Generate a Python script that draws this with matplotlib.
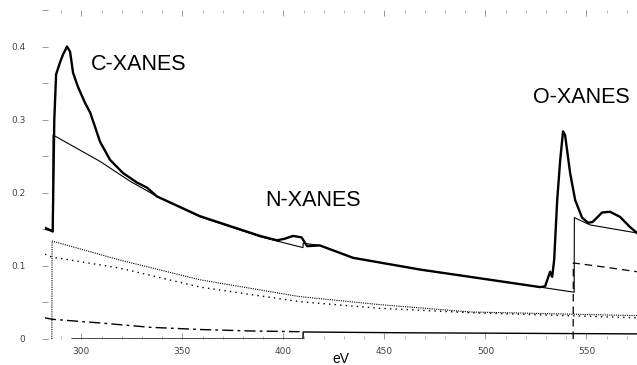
import numpy as np
from matplotlib import pyplot as plt
from matplotlib.ticker import MultipleLocator

# measured absorption (thick curve)
energy_meas = [282, 284.5, 285.8, 286.6, 287.5, 289.4, 290.9, 292.9, 294.4, 295.9,
               298.3, 301.8, 304.3, 306.8, 309.2, 314.2, 320.6, 327.5, 332.5, 337.4,
               358.7, 388.4, 396.8, 400.5, 404.8, 409.0, 411.7, 418, 434.5, 467.6,
               492.4, 527, 529.5, 532, 533, 534, 535.5, 537, 538.4, 539.4,
               541.9, 544.4, 547.8, 550.8, 553, 557.7, 561.7, 566.6, 571.6, 575]
mu_meas = [0.152, 0.149, 0.147, 0.300, 0.362, 0.378, 0.389, 0.400, 0.393, 0.364,
           0.345, 0.323, 0.310, 0.290, 0.270, 0.245, 0.227, 0.214, 0.207, 0.195,
           0.168, 0.141, 0.135, 0.137, 0.141, 0.139, 0.127, 0.128, 0.111, 0.095,
           0.085, 0.071, 0.072, 0.092, 0.085, 0.108, 0.190, 0.245, 0.284, 0.279,
           0.227, 0.190, 0.166, 0.159, 0.160, 0.173, 0.174, 0.167, 0.153, 0.145]

# atomic background (thin curve)
energy_atomic = [282, 285.9, 286.0, 309.2, 324, 337.4, 358.7, 388.4, 396.8, 409.7,
                 409.8, 418, 434.5, 467.6, 492.4, 527, 543.9, 544.0, 551.8, 575]
mu_atomic = [0.150, 0.147, 0.279, 0.243, 0.216, 0.195, 0.167, 0.140, 0.134, 0.125,
             0.131, 0.128, 0.111, 0.095, 0.085, 0.071, 0.064, 0.166, 0.156, 0.145]

# element contributions
energy_c1 = [285.4, 285.5, 319, 358.7, 408, 447.8, 492.4, 575]
mu_c1 = [0.0, 0.134, 0.108, 0.081, 0.058, 0.047, 0.037, 0.032]

energy_c2 = [282, 285.5, 319, 358.7, 408.2, 447.8, 492.4, 575]
mu_c2 = [0.116, 0.112, 0.097, 0.071, 0.051, 0.042, 0.036, 0.029]

energy_dd = [282, 285.5, 309, 334, 358.7, 383.5, 408]
mu_dd = [0.029, 0.027, 0.022, 0.016, 0.013, 0.011, 0.010]

energy_n = [295.4, 409.7, 409.8, 460, 575]
mu_n = [0.0, 0.0, 0.0096, 0.0085, 0.007]

energy_o = [543.4, 543.5, 560, 575]
mu_o = [0.0, 0.104, 0.098, 0.092]

labels = ['C-XANES', 'N-XANES', 'O-XANES']
label_pos = [(304.8, 0.375), (391, 0.189), (523.6, 0.331)]

fig = plt.figure(figsize=(6.37, 3.65), dpi=100)
ax = fig.add_axes([45 / 637, 26 / 365, 592 / 637, 329 / 365])

ax.plot(energy_c1, mu_c1, color='black', lw=0.8, linestyle=(0, (1, 1)))
ax.plot(energy_c2, mu_c2, color='black', lw=1.0, linestyle=(0, (1, 3)))
ax.plot(energy_dd, mu_dd, color='black', lw=1.0, linestyle=(0, (8, 3, 2, 3)))
ax.plot(energy_n, mu_n, color='black', lw=1.0)
ax.plot(energy_o, mu_o, color='black', lw=0.9, linestyle=(0, (6, 4)))
ax.plot(energy_atomic, mu_atomic, color='black', lw=0.8)
ax.plot(energy_meas, mu_meas, color='black', lw=1.7)

for txt, (ex, ey) in zip(labels, label_pos):
    ax.text(ex, ey, txt, fontsize=15.5, family='Liberation Sans', va='center', ha='left')

ax.set_xlim(282, 575)
ax.set_ylim(0, 0.45)

for side in ['left', 'right', 'top', 'bottom']:
    ax.spines[side].set_visible(False)

ax.set_yticks([0, 0.1, 0.2, 0.3, 0.4])
ax.set_yticklabels(['0', '0.1', '0.2', '0.3', '0.4'])
ax.yaxis.set_minor_locator(MultipleLocator(0.05))
ax.set_xticks([300, 350, 400, 450, 500, 550])
ax.xaxis.set_minor_locator(MultipleLocator(10))

ax.tick_params(axis='y', which='both', direction='inout', length=4, width=0.6,
               color='#888888', labelsize=6.5, labelcolor='#444444', pad=12)
ax.tick_params(axis='x', which='both', direction='in', length=4, width=0.6,
               color='#888888', labelsize=6.5, labelcolor='#444444', pad=6, top=True)
ax.tick_params(axis='x', which='minor', length=2.5, color='#aaaaaa')

ax.set_xlabel('eV', fontsize=10, family='Liberation Sans', labelpad=-3)

fig.savefig('out.png', dpi=100)
